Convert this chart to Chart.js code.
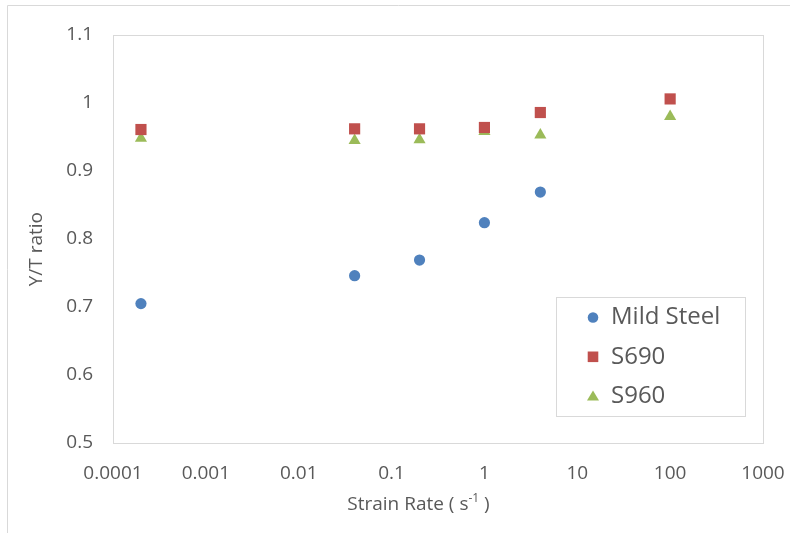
<!DOCTYPE html>
<html>
<head>
<meta charset="utf-8">
<title>Y/T ratio vs Strain Rate</title>
<script src="https://cdn.jsdelivr.net/npm/chart.js@4.4.1/dist/chart.umd.min.js"></script>
<style>
    html, body { margin: 0; padding: 0; background: #fff; }
    #chartCanvas { display: block; }
</style>
</head>
<body>
<canvas id="chartCanvas" width="790" height="533"></canvas>
<script>
// Strain rates (s^-1) used in the tests
const strainRates = [0.0002, 0.04, 0.2, 1, 4, 100];

// Y/T ratio for each material (null = not tested)
const mildSteel = [0.705, 0.746, 0.769, 0.824, 0.869, null];
const s690 = [0.961, 0.962, 0.962, 0.964, 0.986, 1.006];
const s960 = [0.948, 0.945, 0.946, 0.958, 0.953, 0.980];

// Axis ticks
const xTicks = [0.0001, 0.001, 0.01, 0.1, 1, 10, 100, 1000];
const yTicks = [0.5, 0.6, 0.7, 0.8, 0.9, 1, 1.1];

const textColor = '#595959';
const lineColor = '#D9D9D9';
const fontFamily = '"Open Sans", sans-serif';

// Build {x, y} points from the arrays, skipping missing values
function toPoints(values) {
    const points = [];
    values.forEach((v, i) => {
        if (v !== null) points.push({ x: strainRates[i], y: v });
    });
    return points;
}

const series = [
    { label: 'Mild Steel', data: mildSteel, color: '#4F81BD', style: 'circle', radius: 5.6 },
    { label: 'S690', data: s690, color: '#C0504D', style: 'rect', radius: 7.9 },
    { label: 'S960', data: s960, color: '#9BBB59', style: 'triangle', radius: 7 }
];

// Frame, plot border, axis titles and legend box (Excel look)
const excelLook = {
    id: 'excelLook',
    beforeDraw(chart) {
        const ctx = chart.ctx;
        ctx.save();
        ctx.strokeStyle = lineColor;
        ctx.lineWidth = 1;
        ctx.beginPath();
        ctx.moveTo(7.5, chart.height);
        ctx.lineTo(7.5, 5.5);
        ctx.lineTo(chart.width, 5.5);
        ctx.stroke();
        const a = chart.chartArea;
        ctx.strokeRect(a.left + 0.5, a.top + 0.5, a.right - a.left, a.bottom - a.top);
        ctx.restore();
    },
    afterDraw(chart) {
        const ctx = chart.ctx;
        const a = chart.chartArea;
        ctx.save();
        ctx.fillStyle = textColor;

        // Y axis title
        ctx.font = '19px ' + fontFamily;
        ctx.textAlign = 'center';
        ctx.textBaseline = 'middle';
        ctx.translate(37, a.top + (a.bottom - a.top) * 0.525);
        ctx.rotate(-Math.PI / 2);
        ctx.fillText('Y/T ratio', 0, 0);
        ctx.setTransform(1, 0, 0, 1, 0, 0);

        // X axis title with superscript
        const main = 'Strain Rate ( s';
        const sup = '-1';
        const tail = ' )';
        ctx.font = '19px ' + fontFamily;
        const w1 = ctx.measureText(main).width;
        const w3 = ctx.measureText(tail).width;
        ctx.font = '12px ' + fontFamily;
        const w2 = ctx.measureText(sup).width;
        let x = a.left + (a.right - a.left) * 0.47 - (w1 + w2 + w3) / 2;
        const y = 505;
        ctx.textAlign = 'left';
        ctx.textBaseline = 'middle';
        ctx.font = '19px ' + fontFamily;
        ctx.fillText(main, x, y);
        x += w1;
        ctx.font = '12px ' + fontFamily;
        ctx.fillText(sup, x, y - 6);
        x += w2;
        ctx.font = '19px ' + fontFamily;
        ctx.fillText(tail, x, y);

        // Legend
        const box = { left: 556.5, top: 297.5, width: 189, height: 119 };
        ctx.fillStyle = '#fff';
        ctx.fillRect(box.left, box.top, box.width, box.height);
        ctx.strokeStyle = lineColor;
        ctx.strokeRect(box.left, box.top, box.width, box.height);
        ctx.font = '24px ' + fontFamily;
        ctx.textBaseline = 'middle';
        chart.data.datasets.forEach((ds, i) => {
            const cy = box.top + 20 + i * 39.3;
            const cx = 593;
            ctx.fillStyle = ds.backgroundColor;
            ctx.beginPath();
            if (ds.pointStyle === 'circle') {
                ctx.arc(cx, cy, 5.3, 0, Math.PI * 2);
            } else if (ds.pointStyle === 'rect') {
                ctx.rect(cx - 5.3, cy - 5.3, 10.6, 10.6);
            } else {
                ctx.moveTo(cx, cy - 5.5);
                ctx.lineTo(cx + 6, cy + 4.5);
                ctx.lineTo(cx - 6, cy + 4.5);
                ctx.closePath();
            }
            ctx.fill();
            ctx.fillStyle = textColor;
            ctx.fillText(ds.label, 611, cy);
        });
        ctx.restore();
    }
};

new Chart(document.getElementById('chartCanvas'), {
    type: 'scatter',
    data: {
        datasets: series.map(s => ({
            label: s.label,
            data: toPoints(s.data),
            backgroundColor: s.color,
            borderColor: s.color,
            borderWidth: 0,
            pointStyle: s.style,
            pointRadius: s.radius,
            pointHoverRadius: s.radius
        }))
    },
    options: {
        responsive: false,
        animation: false,
        layout: { padding: { left: 0, top: 35, right: 27, bottom: 0 } },
        plugins: {
            legend: { display: false },
            tooltip: { enabled: false }
        },
        scales: {
            x: {
                type: 'logarithmic',
                min: xTicks[0],
                max: xTicks[xTicks.length - 1],
                grid: { display: false, drawTicks: false },
                border: { display: false },
                afterBuildTicks: scale => {
                    scale.ticks = xTicks.map(v => ({ value: v }));
                },
                afterFit: scale => {
                    scale.height = 90;
                    scale.paddingLeft = 0;
                    scale.paddingRight = 0;
                },
                ticks: {
                    color: textColor,
                    font: { family: fontFamily, size: 19 },
                    padding: 19,
                    maxRotation: 0,
                    autoSkip: false,
                    callback: v => String(v)
                }
            },
            y: {
                min: yTicks[0],
                max: yTicks[yTicks.length - 1],
                grid: { display: false, drawTicks: false },
                border: { display: false },
                afterBuildTicks: scale => {
                    scale.ticks = yTicks.map(v => ({ value: v }));
                },
                afterFit: scale => {
                    scale.width = 113;
                    scale.paddingTop = 0;
                    scale.paddingBottom = 0;
                },
                ticks: {
                    color: textColor,
                    font: { family: fontFamily, size: 19 },
                    padding: 20,
                    callback: v => String(+v.toFixed(1))
                }
            }
        }
    },
    plugins: [excelLook]
});
</script>
</body>
</html>
